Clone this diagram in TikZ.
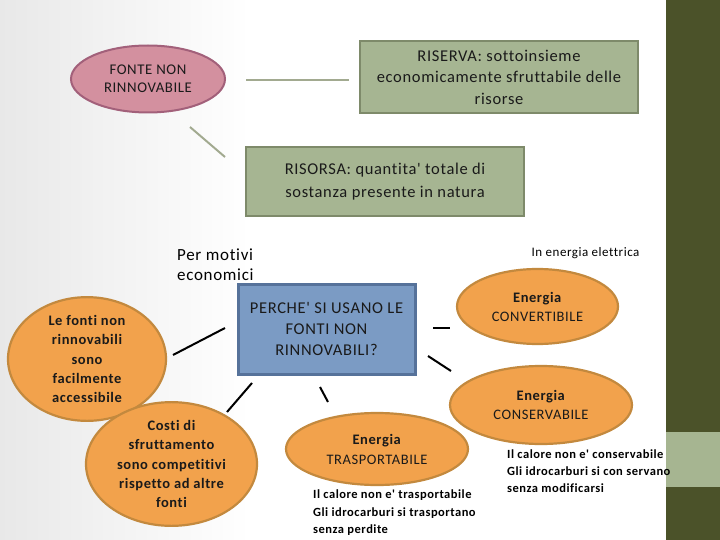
\documentclass[tikz,border=0pt]{standalone}
\usepackage{fontspec}
\setmainfont{Carlito}[Ligatures={TeXOff,CommonOff}, LetterSpace=4]
\usetikzlibrary{shapes.geometric}
\definecolor{bandDark}{HTML}{4B5229}
\definecolor{bandLight}{HTML}{A6B591}
\definecolor{pinkFill}{HTML}{D3909F}
\definecolor{pinkBorder}{HTML}{A2607A}
\definecolor{grFill}{HTML}{A6B592}
\definecolor{grBorder}{HTML}{7E8A6A}
\definecolor{blFill}{HTML}{7B9BC4}
\definecolor{blBorder}{HTML}{56729A}
\definecolor{orFill}{HTML}{F2A24C}
\definecolor{orBorder}{HTML}{C3893E}
\definecolor{txt}{HTML}{1A1A1A}
\definecolor{grLine}{HTML}{A2AA90}
\tikzset{
  oval/.style={ellipse, draw=orBorder, fill=orFill, line width=2.2pt, inner sep=0pt, text=txt, align=center},
  pinkoval/.style={ellipse, draw=pinkBorder, fill=pinkFill, line width=2pt, inner sep=0pt, text=txt, align=center},
  greenbox/.style={rectangle, draw=grBorder, fill=grFill, line width=2.5pt, inner sep=0pt, text=txt, align=center},
  bluebox/.style={rectangle, draw=blBorder, fill=blFill, line width=3pt, inner sep=0pt, text=txt, align=center},
  note/.style={inner sep=0pt, text=black, align=left},
  blackline/.style={draw=black, line width=2pt},
  greenline/.style={draw=grLine, line width=2pt}
}
\begin{document}
\begin{tikzpicture}[x=1pt,y=-1pt]
\useasboundingbox (0,0) rectangle (720,540);
\fill[white] (0,0) rectangle (720,540);
\shade[left color=black!9, right color=white] (0,0) rectangle (250,540);
\fill[bandDark] (666,0) rectangle (720,540);
\fill[bandLight] (666,432) rectangle (720,487);

% top part
\node[pinkoval, minimum width=154pt, minimum height=67pt, font=\fontsize{14.8}{18.3}\selectfont] (fonte) at (148,79) {FONTE NON\\RINNOVABILE};
\node[greenbox, minimum width=278pt, minimum height=72pt, font=\fontsize{16.5}{21.5}\selectfont] (riserva) at (499,77) {RISERVA: sottoinsieme\\economicamente sfruttabile delle\\risorse};
\node[greenbox, minimum width=278pt, minimum height=69pt, font=\fontsize{16.5}{23}\selectfont] (risorsa) at (385,181.5) {RISORSA: quantita' totale di\\sostanza presente in natura};

\coordinate (c1a) at (246,80);
\coordinate (c1b) at (349,80);
\coordinate (c2a) at (190,127);
\coordinate (c2b) at (225,157);
\draw[greenline] (c1a) -- (c1b);
\draw[greenline] (c2a) -- (c2b);

% lower part
\node[note, anchor=west, font=\fontsize{17}{20}\selectfont] (motivi) at (177,265) {Per motivi\\economici};
\node[bluebox, minimum width=177pt, minimum height=90pt, font=\fontsize{16.5}{21}\selectfont] (perche) at (326.5,329) {PERCHE' SI USANO LE\\FONTI NON\\RINNOVABILI?};

\node[oval, minimum width=158pt, minimum height=105pt, font=\bfseries\fontsize{14.5}{19.3}\selectfont] (facili) at (87,359) {Le fonti non\\rinnovabili\\sono\\facilmente\\accessibile};
\node[oval, minimum width=171pt, minimum height=98pt, font=\bfseries\fontsize{14.5}{19.3}\selectfont] (costi) at (171.5,464) {Costi di\\sfruttamento\\sono competitivi\\rispetto ad altre\\fonti};
\node[oval, minimum width=182pt, minimum height=72pt, font=\fontsize{14.5}{20}\selectfont] (trasp) at (377,449) {\textbf{Energia}\\TRASPORTABILE};
\node[oval, minimum width=161pt, minimum height=75pt, font=\fontsize{14.5}{19}\selectfont] (conv) at (537.5,306.5) {\textbf{Energia}\\CONVERTIBILE};
\node[oval, minimum width=182pt, minimum height=78pt, font=\fontsize{14.5}{19.5}\selectfont] (cons) at (541,405) {\textbf{Energia}\\CONSERVABILE};

\node[note, font=\fontsize{13}{15}\selectfont] (elettrica) at (585.5,253) {In energia elettrica};
\node[note, anchor=north west, font=\bfseries\fontsize{12.5}{17}\selectfont] (consnote) at (507,450) {Il calore non e' conservabile\\Gli idrocarburi si con servano\\senza modificarsi};
\node[note, anchor=north west, font=\bfseries\fontsize{12.5}{17.5}\selectfont] (traspnote) at (313,490) {Il calore non e' trasportabile\\Gli idrocarburi si trasportano\\senza perdite};

\coordinate (l1a) at (173,355);
\coordinate (l1b) at (225,328);
\coordinate (l2a) at (227,412);
\coordinate (l2b) at (252,383);
\coordinate (l3a) at (320,387);
\coordinate (l3b) at (328,402);
\coordinate (l4a) at (433,328);
\coordinate (l4b) at (450,328);
\coordinate (l5a) at (428,356);
\coordinate (l5b) at (451,371);
\draw[blackline] (l1a) -- (l1b);
\draw[blackline] (l2a) -- (l2b);
\draw[blackline] (l3a) -- (l3b);
\draw[blackline] (l4a) -- (l4b);
\draw[blackline] (l5a) -- (l5b);
\end{tikzpicture}
\end{document}
